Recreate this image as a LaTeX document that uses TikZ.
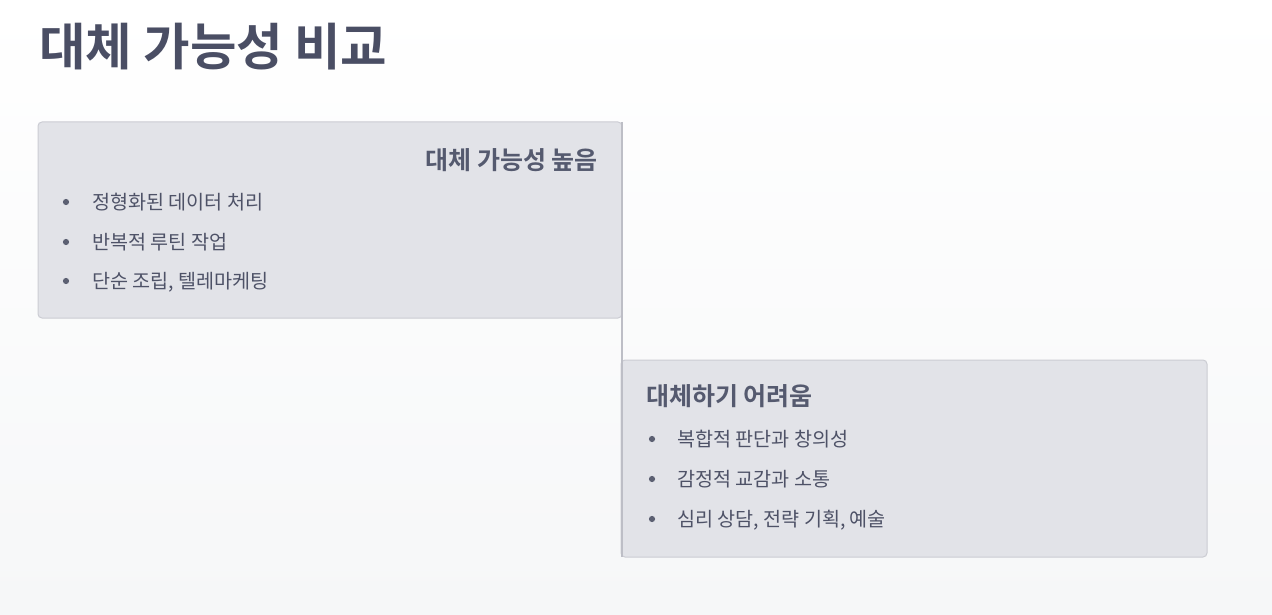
\documentclass[tikz,border=0pt]{standalone}
\usepackage{fontspec}
\setmainfont{Noto Sans CJK KR}
\newfontfamily\krb{Noto Sans CJK KR Bold}
\usetikzlibrary{positioning}
\definecolor{bgtop}{HTML}{FFFFFF}
\definecolor{bgbot}{HTML}{F6F7F8}
\definecolor{titlec}{HTML}{4A4E64}
\definecolor{headc}{HTML}{555A6F}
\definecolor{itemc}{HTML}{4E5267}
\definecolor{dotc}{HTML}{5C6072}
\definecolor{boxfill}{HTML}{E2E3E8}
\definecolor{boxline}{HTML}{CBCCD3}
\definecolor{divline}{HTML}{BDBEC6}
\tikzset{
  panel/.style={fill=boxfill, draw=boxline, line width=1pt, rounded corners=4pt},
  titletext/.style={inner sep=0pt, anchor=base west, text=titlec, font=\krb\fontsize{50.5}{56}\selectfont},
  headtext/.style={inner sep=0pt, text=headc, font=\krb\fontsize{25}{29}\selectfont},
  itemtext/.style={inner sep=0pt, anchor=base west, text=itemc, font=\fontsize{19.6}{23}\selectfont},
  bulletdot/.style={circle, fill=dotc, inner sep=0pt, minimum size=6.2pt},
  divider/.style={draw=divline, line width=2pt}
}
\begin{document}
\begin{tikzpicture}[x=1pt,y=-1pt]
\useasboundingbox (0,0) rectangle (1272,615);
\shade[top color=bgtop, bottom color=bgbot] (0,0) rectangle (1272,615);

\node[titletext] (title) at (39,66) {대체 가능성 비교};

% left panel
\draw[panel] (38,122) rectangle (622,318);
\node[headtext, anchor=base east] (h1) at (598,169) {대체 가능성 높음};
\node[bulletdot] (d11) at (66,202) {};
\node[itemtext] (t11) at (92,209) {정형화된 데이터 처리};
\node[bulletdot] (d12) at (66,242) {};
\node[itemtext] (t12) at (92,249) {반복적 루틴 작업};
\node[bulletdot] (d13) at (66,281) {};
\node[itemtext] (t13) at (92,288) {단순 조립, 텔레마케팅};

% right panel
\draw[panel] (621,360) rectangle (1207,557);
\node[headtext, anchor=base west] (h2) at (646,405) {대체하기 어려움};
\node[bulletdot] (d21) at (652,439) {};
\node[itemtext] (t21) at (677,446) {복합적 판단과 창의성};
\node[bulletdot] (d22) at (652,479) {};
\node[itemtext] (t22) at (677,486) {감정적 교감과 소통};
\node[bulletdot] (d23) at (652,519) {};
\node[itemtext] (t23) at (677,526) {심리 상담, 전략 기획, 예술};

% divider
\coordinate (ltop) at (621.5,122);
\coordinate (lbot) at (621.5,557);
\draw[divider] (ltop) -- (lbot);
\end{tikzpicture}
\end{document}
